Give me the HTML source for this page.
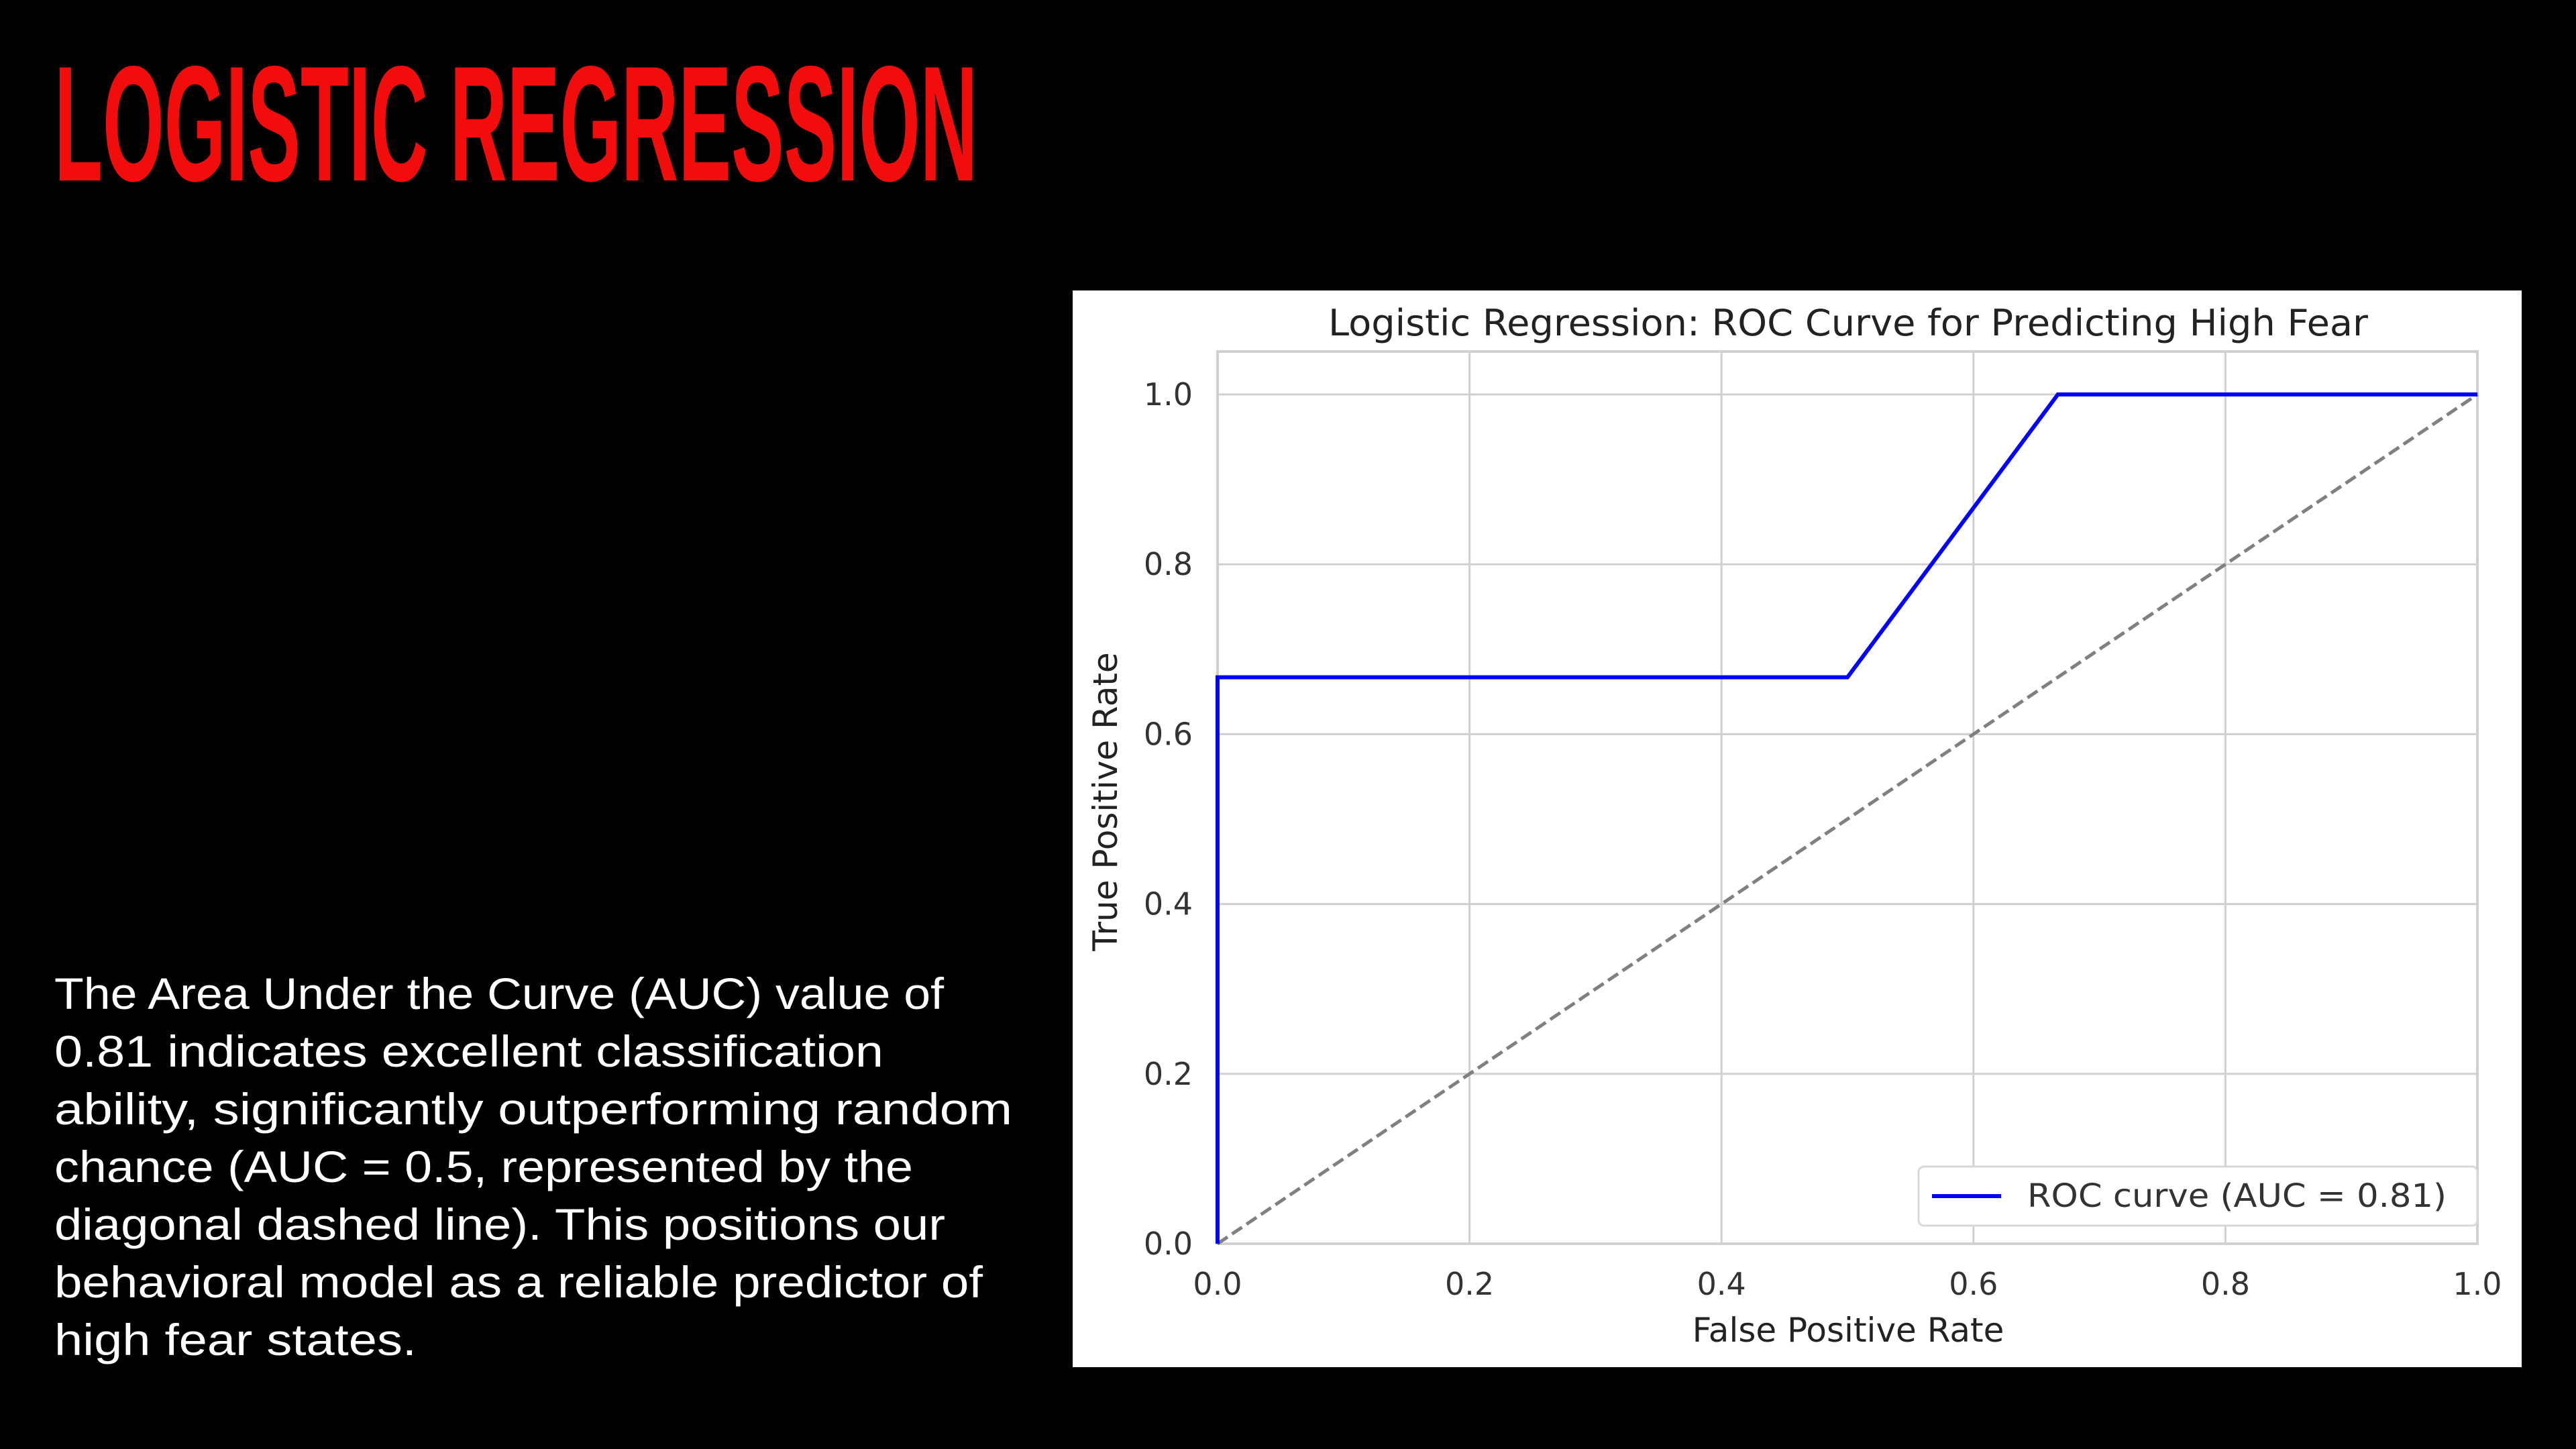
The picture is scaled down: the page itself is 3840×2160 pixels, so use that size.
<!DOCTYPE html>
<html><head><meta charset="utf-8"><style>
html,body{margin:0;padding:0;background:#000;width:3840px;height:2160px;overflow:hidden}
svg{display:block}
</style></head><body>
<svg width="3840" height="2160" xmlns="http://www.w3.org/2000/svg">
<rect x="0" y="0" width="3840" height="2160" fill="#000"/>
<text x="81" y="269" font-family="Liberation Sans, sans-serif" font-weight="bold" font-size="245" fill="#f20c0c" textLength="1376" lengthAdjust="spacingAndGlyphs">LOGISTIC REGRESSION</text>
<g font-family="Liberation Sans, sans-serif" font-size="66" fill="#fff">
<text x="81" y="1504" textLength="1326" lengthAdjust="spacingAndGlyphs">The Area Under the Curve (AUC) value of</text>
<text x="81" y="1590" textLength="1236" lengthAdjust="spacingAndGlyphs">0.81 indicates excellent classification</text>
<text x="81" y="1676" textLength="1428" lengthAdjust="spacingAndGlyphs">ability, significantly outperforming random</text>
<text x="81" y="1762" textLength="1280" lengthAdjust="spacingAndGlyphs">chance (AUC = 0.5, represented by the</text>
<text x="81" y="1848" textLength="1328" lengthAdjust="spacingAndGlyphs">diagonal dashed line). This positions our</text>
<text x="81" y="1934" textLength="1384" lengthAdjust="spacingAndGlyphs">behavioral model as a reliable predictor of</text>
<text x="81" y="2020" textLength="540" lengthAdjust="spacingAndGlyphs">high fear states.</text>
</g>
<rect x="1599" y="433" width="2160" height="1605" fill="#fff"/>
<g id="chart"></g>
</svg>
<script>
const xTicks=[0,0.2,0.4,0.6,0.8,1.0];
const yTicks=[0,0.2,0.4,0.6,0.8,1.0];
const fpr=[0,0,0.5,0.667,1];
const tpr=[0,0.667,0.667,1,1];
const chanceX=[0,1];
const chanceY=[0,1];
const NS='http://www.w3.org/2000/svg';
const L=1815,R=3693,T=524,B=1854;
const X0=1815,X1=3693,Y0=1854,Y1=588;
function sx(v){return X0+(X1-X0)*v;}
function sy(v){return Y0-(Y0-Y1)*v;}
const g=document.getElementById('chart');
function mk(tag,attrs,parent){const e=document.createElementNS(NS,tag);for(const k in attrs)e.setAttribute(k,attrs[k]);(parent||g).appendChild(e);return e;}
const font='DejaVu Sans, Liberation Sans, sans-serif';
xTicks.forEach(v=>{
 const l=mk('line',{x1:sx(v),x2:sx(v),y1:T,y2:B,stroke:'#d0d0d0','stroke-width':3});
 
 
 const t=mk('text',{x:sx(v),y:1930,'text-anchor':'middle','font-family':font,'font-size':46,fill:'#333'});
 t.textContent=v.toFixed(1);
 
 
});
yTicks.forEach(v=>{
 const l=mk('line',{x1:L,x2:R,y1:sy(v),y2:sy(v),stroke:'#d0d0d0','stroke-width':3});
 
 
 const t=mk('text',{x:1778,y:sy(v)+16,'text-anchor':'end','font-family':font,'font-size':46,fill:'#333'});
 t.textContent=v.toFixed(1);
 
 
});
const frame=mk('rect',{x:L,y:T,width:R-L,height:B-T,fill:'none',stroke:'#d0d0d0','stroke-width':4});


const ch=mk('polyline',{points:chanceX.map((x,i)=>sx(x)+','+sy(chanceY[i])).join(' '),fill:'none',stroke:'#808080','stroke-width':5,'stroke-dasharray':'18,8'});


const roc=mk('polyline',{points:fpr.map((x,i)=>sx(x)+','+sy(tpr[i])).join(' '),fill:'none',stroke:'#0000ff','stroke-width':6});


const title=mk('text',{x:2755,y:500,'text-anchor':'middle','font-family':font,'font-size':54,fill:'#222',textLength:1550,lengthAdjust:'spacingAndGlyphs'});
title.textContent='Logistic Regression: ROC Curve for Predicting High Fear';


const xl=mk('text',{x:2755,y:2000,'text-anchor':'middle','font-family':font,'font-size':50,fill:'#222'});
xl.textContent='False Positive Rate';


const yl=mk('text',{x:0,y:0,'text-anchor':'middle','font-family':font,'font-size':50,fill:'#222',transform:'translate(1665,1195) rotate(-90)'});
yl.textContent='True Positive Rate';


const lg=mk('rect',{x:2860,y:1739,width:833,height:88,rx:8,fill:'#fff',stroke:'#d8d8d8','stroke-width':3});


const ll=mk('line',{x1:2880,x2:2983,y1:1783,y2:1783,stroke:'#0000ff','stroke-width':6});


const lt=mk('text',{x:3022,y:1799,'font-family':font,'font-size':48,fill:'#333',textLength:625,lengthAdjust:'spacingAndGlyphs'});
lt.textContent='ROC curve (AUC = 0.81)';


</script>
</body></html>
